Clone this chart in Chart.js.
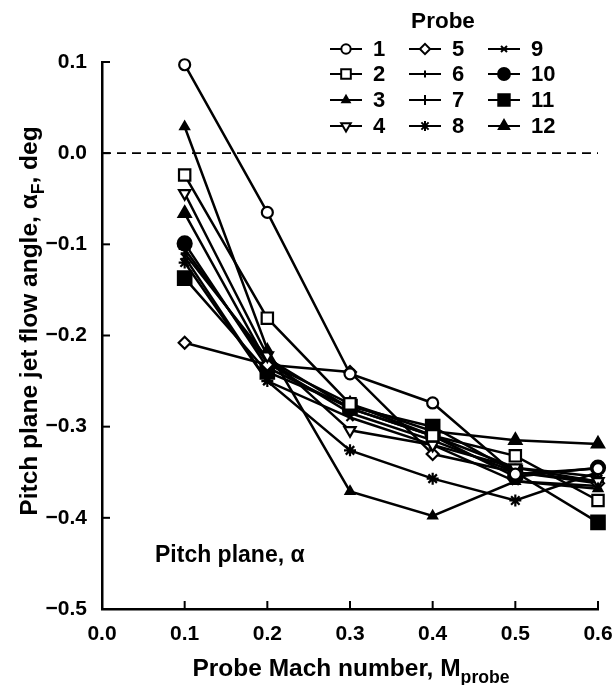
<!DOCTYPE html>
<html>
<head>
<meta charset="utf-8">
<title>Pitch plane jet flow angle</title>
<script src="https://cdn.jsdelivr.net/npm/chart.js@4.4.0/dist/chart.umd.min.js"></script>
<style>
  html, body { margin: 0; padding: 0; background: #fff; }
</style>
</head>
<body>
<canvas id="flowChart" width="615" height="685"></canvas>
<script>
// Probe Mach number (x) and pitch plane jet flow angle, deg (y)
const machNumbers = [0.1, 0.2, 0.3, 0.4, 0.5, 0.6];

const probe1 = [0.097, -0.065, -0.242, -0.274, -0.352, -0.346];
const probe2 = [-0.024, -0.181, -0.275, -0.310, -0.332, -0.381];
const probe3 = [0.029, -0.215, -0.371, -0.398, -0.360, -0.368];
const probe4 = [-0.044, -0.222, -0.304, -0.320, -0.345, -0.360];
const probe5 = [-0.208, -0.232, -0.240, -0.330, -0.350, -0.362];
const probe6 = [-0.110, -0.225, -0.280, -0.310, -0.345, -0.355];
const probe7 = [-0.105, -0.230, -0.285, -0.315, -0.350, -0.360];
const probe8 = [-0.120, -0.250, -0.326, -0.357, -0.381, -0.350];
const probe9 = [-0.114, -0.250, -0.290, -0.320, -0.360, -0.365];
const probe10 = [-0.099, -0.235, -0.280, -0.310, -0.355, -0.345];
const probe11 = [-0.137, -0.240, -0.278, -0.300, -0.350, -0.405];
const probe12 = [-0.066, -0.230, -0.275, -0.305, -0.315, -0.319];

const probeNames = ["1", "2", "3", "4", "5", "6", "7", "8", "9", "10", "11", "12"];
const probeValues = [probe1, probe2, probe3, probe4, probe5, probe6,
  probe7, probe8, probe9, probe10, probe11, probe12];

const xTickValues = [0.0, 0.1, 0.2, 0.3, 0.4, 0.5, 0.6];
const yTickValues = [0.1, 0.0, -0.1, -0.2, -0.3, -0.4, -0.5];

// Symbol for each probe
const markers = [
  { style: "circle", radius: 5.5, fill: "#fff", rotation: 0 },
  { style: "rect", radius: 8, fill: "#fff", rotation: 0 },
  { style: "triangle", radius: 5, fill: "#000", rotation: 0 },
  { style: "triangle", radius: 6.5, fill: "#fff", rotation: 180 },
  { style: "rectRot", radius: 6, fill: "#fff", rotation: 0 },
  { style: "cross", radius: 4, fill: "#000", rotation: 0 },
  { style: "cross", radius: 6, fill: "#000", rotation: 0 },
  { style: "star", radius: 6, fill: "#000", rotation: 0 },
  { style: "crossRot", radius: 5, fill: "#000", rotation: 0 },
  { style: "circle", radius: 7, fill: "#000", rotation: 0 },
  { style: "rect", radius: 9.5, fill: "#000", rotation: 0 },
  { style: "triangle", radius: 7, fill: "#000", rotation: 0 },
];

const FONT = "'Liberation Sans', Arial, Helvetica, sans-serif";

function formatTick(value) {
  const v = Math.abs(value) < 1e-9 ? 0 : value;
  return v.toFixed(1).replace("-", "\u2212");
}

const datasets = probeValues.map((values, i) => ({
  label: probeNames[i],
  data: machNumbers.map((m, j) => ({ x: m, y: values[j] })),
  borderColor: "#000",
  borderWidth: 2.5,
  tension: 0,
  clip: false,
  pointStyle: markers[i].style,
  pointRadius: markers[i].radius,
  pointRotation: markers[i].rotation,
  pointBackgroundColor: markers[i].fill,
  pointBorderColor: "#000",
  pointBorderWidth: 2.2,
}));

// Draws text with a lowered, smaller part (subscript)
function drawWithSub(ctx, parts, x, y, size) {
  let width = 0;
  parts.forEach((p) => {
    ctx.font = `bold ${p.sub ? size * 0.72 : size}px ${FONT}`;
    width += ctx.measureText(p.text).width;
  });
  let cx = x - width / 2;
  parts.forEach((p) => {
    ctx.font = `bold ${p.sub ? size * 0.72 : size}px ${FONT}`;
    ctx.fillText(p.text, cx, p.sub ? y + size * 0.3 : y);
    cx += ctx.measureText(p.text).width;
  });
}

// Dashed zero line behind the data
const zeroLine = {
  id: "zeroLine",
  beforeDatasetsDraw(chart) {
    const { ctx, chartArea, scales } = chart;
    const y0 = scales.y.getPixelForValue(0);
    ctx.save();
    ctx.strokeStyle = "#000";
    ctx.lineWidth = 1.6;
    ctx.setLineDash([9, 6]);
    ctx.beginPath();
    ctx.moveTo(chartArea.left, y0);
    ctx.lineTo(chartArea.right, y0);
    ctx.stroke();
    ctx.restore();
  },
};

// Inward ticks, axis titles, note and the probe key
const decorations = {
  id: "decorations",
  afterDraw(chart) {
    const { ctx, chartArea, scales } = chart;
    ctx.save();
    ctx.strokeStyle = "#000";
    ctx.fillStyle = "#000";
    ctx.lineWidth = 2;
    ctx.setLineDash([]);

    xTickValues.forEach((v) => {
      const px = scales.x.getPixelForValue(v);
      ctx.beginPath();
      ctx.moveTo(px, chartArea.bottom);
      ctx.lineTo(px, chartArea.bottom - 8);
      ctx.stroke();
    });
    yTickValues.forEach((v) => {
      const py = scales.y.getPixelForValue(v);
      ctx.beginPath();
      ctx.moveTo(chartArea.left, py);
      ctx.lineTo(chartArea.left + 8, py);
      ctx.stroke();
    });

    // x axis title
    ctx.textBaseline = "alphabetic";
    ctx.textAlign = "left";
    drawWithSub(ctx, [{ text: "Probe Mach number, M" }, { text: "probe", sub: true }],
      351, 676, 24.5);

    // y axis title
    ctx.save();
    ctx.translate(37, 321);
    ctx.rotate(-Math.PI / 2);
    drawWithSub(ctx, [
      { text: "Pitch plane jet flow angle, \u03b1" },
      { text: "F", sub: true },
      { text: ", deg" },
    ], 0, 0, 24.5);
    ctx.restore();

    ctx.font = `bold 23px ${FONT}`;
    ctx.fillText("Pitch plane, \u03b1", 155, 562);

    // probe key, filled column by column
    ctx.textAlign = "center";
    ctx.font = `bold 22.5px ${FONT}`;
    ctx.fillText("Probe", 443, 28);
    const colX = [346, 425, 504];
    const rowY = [49, 74, 100, 126];
    ctx.textAlign = "left";
    ctx.textBaseline = "middle";
    probeNames.forEach((name, i) => {
      const mx = colX[Math.floor(i / 4)];
      const my = rowY[i % 4];
      ctx.lineWidth = 2;
      ctx.strokeStyle = "#000";
      ctx.beginPath();
      ctx.moveTo(mx - 16, my);
      ctx.lineTo(mx + 16, my);
      ctx.stroke();
      ctx.fillStyle = markers[i].fill;
      Chart.helpers.drawPoint(ctx, {
        pointStyle: markers[i].style,
        rotation: markers[i].rotation,
        radius: markers[i].radius * 0.85,
        borderWidth: 2,
      }, mx, my);
      ctx.fillStyle = "#000";
      ctx.font = `bold 22px ${FONT}`;
      ctx.fillText(name, mx + 27, my + 1);
    });
    ctx.restore();
  },
};

new Chart(document.getElementById("flowChart"), {
  type: "line",
  data: { datasets: datasets },
  plugins: [zeroLine, decorations],
  options: {
    responsive: false,
    animation: false,
    layout: { padding: { top: 62, right: 17, left: 0, bottom: 0 } },
    plugins: {
      legend: { display: false },
      tooltip: { enabled: false },
    },
    scales: {
      x: {
        type: "linear",
        min: 0,
        max: 0.6,
        afterFit: (scale) => {
          scale.height = 76;
          scale.paddingLeft = 0;
          scale.paddingRight = 0;
        },
        afterBuildTicks: (scale) => {
          scale.ticks = xTickValues.map((v) => ({ value: v }));
        },
        grid: { display: false, drawTicks: false },
        border: { display: true, color: "#000", width: 2.5 },
        ticks: {
          color: "#000",
          padding: 13,
          maxRotation: 0,
          font: { family: FONT, size: 21, weight: "bold" },
          callback: (value) => formatTick(value),
        },
      },
      y: {
        type: "linear",
        min: -0.5,
        max: 0.1,
        afterFit: (scale) => { scale.width = 102; },
        afterBuildTicks: (scale) => {
          scale.ticks = yTickValues.map((v) => ({ value: v }));
        },
        grid: { display: false, drawTicks: false },
        border: { display: true, color: "#000", width: 2.5 },
        ticks: {
          color: "#000",
          padding: 15,
          font: { family: FONT, size: 21, weight: "bold" },
          callback: (value) => formatTick(value),
        },
      },
    },
  },
});
</script>
</body>
</html>
